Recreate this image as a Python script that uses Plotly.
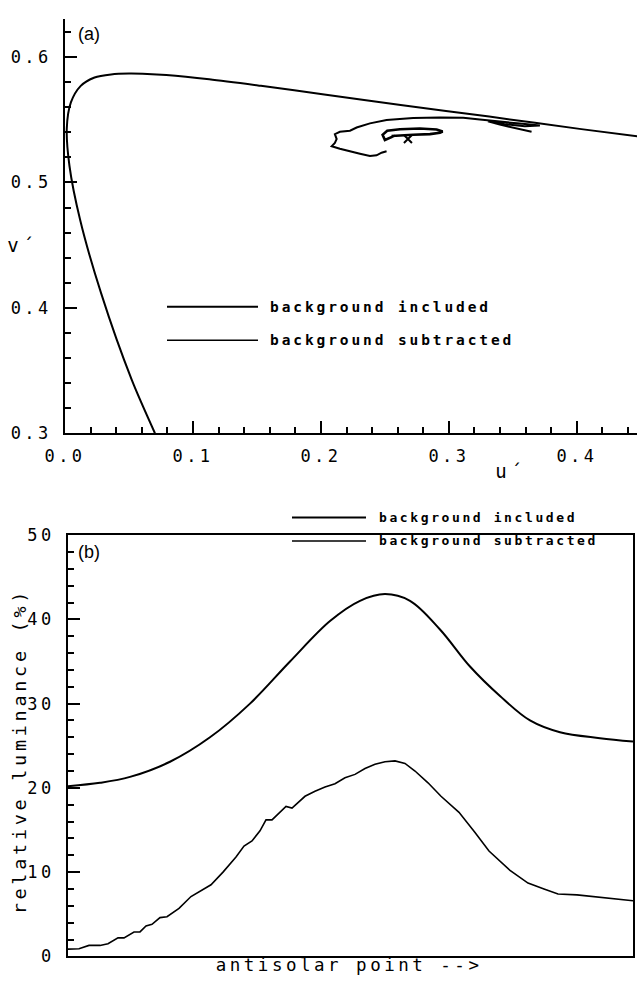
import plotly.graph_objects as go

# ---------------- Panel (a): chromaticity diagram (u', v') ----------------
locus_u = [0.0703, 0.0521, 0.0282, 0.0119, 0.0035, 0.0014, 0.0046, 0.0123, 0.0231,
           0.0360, 0.0501, 0.0643, 0.0792, 0.1127, 0.1531, 0.2026, 0.2623, 0.3315,
           0.4035, 0.4692]
locus_v = [0.3000, 0.3427, 0.4117, 0.4698, 0.5131, 0.5432, 0.5638, 0.5770, 0.5837,
           0.5861, 0.5868, 0.5865, 0.5856, 0.5822, 0.5770, 0.5702, 0.5618, 0.5525,
           0.5425, 0.5340]

# background subtracted (larger trajectory)
sub_u = [0.2513, 0.2474, 0.2435, 0.2383, 0.2305, 0.2227, 0.2148, 0.2084, 0.2109, 0.2123,
         0.2109, 0.2148, 0.2227, 0.2279, 0.2383, 0.2513, 0.2721, 0.2930, 0.3112, 0.3242,
         0.3398, 0.3555, 0.3711, 0.3594, 0.3438, 0.3305, 0.3398, 0.3516, 0.3646]
sub_v = [0.5248, 0.5237, 0.5216, 0.5211, 0.5229, 0.5248, 0.5268, 0.5289, 0.5315, 0.5346,
         0.5385, 0.5404, 0.5412, 0.5438, 0.5471, 0.5498, 0.5513, 0.5518, 0.5516, 0.5502,
         0.5488, 0.5469, 0.5453, 0.5447, 0.5465, 0.5488, 0.5461, 0.5434, 0.5404]

# background included (small loop)
inc_u = [0.2578, 0.2526, 0.2500, 0.2482, 0.2518, 0.2617, 0.2773, 0.2904, 0.2951, 0.2930,
         0.2852, 0.2721, 0.2617, 0.2552]
inc_v = [0.5373, 0.5346, 0.5338, 0.5380, 0.5412, 0.5424, 0.5430, 0.5422, 0.5406, 0.5396,
         0.5385, 0.5380, 0.5375, 0.5370]

ref_u = [0.268]
ref_v = [0.5346]

# ---------------- Panel (b): relative luminance along scan ----------------
inc_pos = [0, 32, 62, 102, 142, 182, 222, 262, 292, 317, 342, 372, 402, 432, 462, 492, 532, 565]
inc_lum = [20.2, 20.6, 21.3, 23.1, 26.0, 30.0, 35.0, 39.8, 42.2, 43.0, 42.2, 38.8, 34.4,
           30.9, 28.0, 26.6, 25.9, 25.5]

sub_pos = [0, 11, 21, 32, 40, 50, 56, 66, 72, 78, 84, 92, 99, 111, 123, 133, 143, 155, 168,
           176, 184, 192, 198, 204, 212, 218, 224, 230, 237, 247, 257, 267, 277, 287, 297,
           307, 317, 327, 337, 347, 360, 373, 391, 407, 421, 442, 460, 476, 490, 509, 525,
           541, 557, 565]
sub_lum = [0.86, 0.9, 1.3, 1.3, 1.5, 2.2, 2.2, 2.9, 2.9, 3.6, 3.8, 4.6, 4.7, 5.7, 7.1, 7.8,
           8.5, 10.0, 11.8, 13.1, 13.7, 14.9, 16.2, 16.2, 17.1, 17.8, 17.6, 18.2, 19.0, 19.6,
           20.1, 20.5, 21.2, 21.6, 22.3, 22.8, 23.1, 23.2, 22.9, 22.0, 20.6, 19.0, 17.1, 14.7,
           12.5, 10.2, 8.7, 8.0, 7.4, 7.3, 7.1, 6.9, 6.7, 6.6]

legend_labels = ["background included", "background subtracted"]

W, H = 637, 984
ML = 65
PW = W - ML


def px(p):
    return (p - ML) / PW


def py(p):
    return 1 - p / H


MONO = "DejaVu Sans Mono"
BLK = "black"

fig = go.Figure()

fig.add_trace(go.Scatter(x=locus_u, y=locus_v, mode="lines",
                         line=dict(color=BLK, width=2, shape="spline", smoothing=0.8),
                         xaxis="x", yaxis="y", showlegend=False, hoverinfo="skip"))
fig.add_trace(go.Scatter(x=sub_u, y=sub_v, mode="lines", line=dict(color=BLK, width=2),
                         xaxis="x", yaxis="y", showlegend=False))
fig.add_trace(go.Scatter(x=inc_u, y=inc_v, mode="lines", line=dict(color=BLK, width=2.6),
                         xaxis="x", yaxis="y", showlegend=False))
fig.add_trace(go.Scatter(x=ref_u, y=ref_v, mode="markers",
                         marker=dict(symbol="x-thin", size=8, line=dict(color=BLK, width=2)),
                         xaxis="x", yaxis="y", showlegend=False))

fig.add_trace(go.Scatter(x=inc_pos, y=inc_lum, mode="lines", line=dict(color=BLK, width=2, shape="spline"),
                         xaxis="x2", yaxis="y2", showlegend=False))
fig.add_trace(go.Scatter(x=sub_pos, y=sub_lum, mode="lines", line=dict(color=BLK, width=1.6),
                         xaxis="x2", yaxis="y2", showlegend=False))

tickfont = dict(family=MONO, size=17, color=BLK)

fig.update_layout(
    width=W, height=H,
    margin=dict(l=ML, r=0, t=0, b=0),
    paper_bgcolor="white", plot_bgcolor="white",
    xaxis=dict(domain=[0, 1], range=[0, 0.447], showgrid=False, zeroline=False,
               showline=True, linecolor=BLK, linewidth=2, anchor="y",
               ticks="inside", ticklen=12, tickwidth=1.5, tickcolor=BLK, tick0=0, dtick=0.1,
               tickformat=".1f", tickfont=tickfont, ticklabelstandoff=6,
               minor=dict(ticks="inside", ticklen=6, tickwidth=1.5, tickcolor=BLK, dtick=0.02)),
    yaxis=dict(domain=[py(432), py(9.6)], range=[0.3, 0.63], showgrid=False, zeroline=False,
               showline=True, linecolor=BLK, linewidth=2, anchor="x",
               ticks="inside", ticklen=12, tickwidth=1.5, tickcolor=BLK, tick0=0, dtick=0.1,
               tickformat=".1f", tickfont=tickfont, ticklabelstandoff=8,
               minor=dict(ticks="inside", ticklen=6, tickwidth=1.5, tickcolor=BLK, dtick=0.02)),
    xaxis2=dict(domain=[px(68), px(633)], range=[0, 565], showgrid=False, zeroline=False,
                showline=True, linecolor=BLK, linewidth=2, mirror=True, anchor="y2",
                showticklabels=False, ticks=""),
    yaxis2=dict(domain=[py(966), py(536)], range=[0, 50], showgrid=False, zeroline=False,
                showline=True, linecolor=BLK, linewidth=2, mirror=True, anchor="x2",
                ticks="inside", ticklen=12, tickwidth=1.5, tickcolor=BLK, tick0=0, dtick=10,
                tickfont=tickfont, ticklabelstandoff=8,
                minor=dict(ticks="inside", ticklen=6, tickwidth=1.5, tickcolor=BLK, dtick=2)),
)

ann = []
ann.append(dict(text="(a)", x=px(89), y=py(24), font=dict(family="Liberation Sans", size=18, color=BLK)))
ann.append(dict(text="(b)", x=px(89), y=py(553), font=dict(family="Liberation Sans", size=18, color=BLK)))
ann.append(dict(text="v´", x=px(22), y=py(240), font=dict(family=MONO, size=19, color=BLK)))
ann.append(dict(text="u´", x=px(510), y=py(471), font=dict(family=MONO, size=19, color=BLK)))
ann.append(dict(text="relative luminance (%)", x=px(20), y=py(757), textangle=-90,
                font=dict(family=MONO, size=18.5, color=BLK)))
ann.append(dict(text="antisolar point -->", x=px(349), y=py(975),
                font=dict(family=MONO, size=17.5, color=BLK)))

# legend of panel (a)
for yy, lab in zip([303, 337], legend_labels):
    ann.append(dict(text=lab, x=px(268), y=py(yy), xanchor="left", align="left",
                    font=dict(family=MONO, size=14.5, color=BLK, weight="bold")))
# legend of panel (b)
for yy, lab in zip([518, 542], legend_labels):
    ann.append(dict(text=lab, x=px(377), y=py(yy), xanchor="left", align="left",
                    font=dict(family=MONO, size=13, color=BLK, weight="bold")))

for a in ann:
    a.setdefault("xref", "paper")
    a.setdefault("yref", "paper")
    a.setdefault("showarrow", False)
    a.setdefault("xanchor", "center")
    a.setdefault("yanchor", "middle")
fig.update_layout(annotations=ann)

shapes = []
for yy, wd in zip([303, 337], [2, 1.5]):
    shapes.append(dict(type="line", xref="paper", yref="paper", x0=px(167), x1=px(258), y0=py(yy), y1=py(yy),
                       line=dict(color=BLK, width=wd)))
for yy, wd in zip([518, 542], [2, 1.5]):
    shapes.append(dict(type="line", xref="paper", yref="paper", x0=px(292), x1=px(366), y0=py(yy), y1=py(yy),
                       line=dict(color=BLK, width=wd)))
fig.update_layout(shapes=shapes)

post = """
var gd = document.getElementById('{plot_id}');
function ls(){
  gd.querySelectorAll('text').forEach(function(t){
    var ff = (t.style.fontFamily || '') + (t.getAttribute('font-family') || '');
    if (ff.indexOf('Mono') >= 0) { t.style.letterSpacing = '0.2em'; }
  });
}
ls();
if (gd.on) { gd.on('plotly_afterplot', ls); }
"""

fig.write_html("out.html", post_script=post)
